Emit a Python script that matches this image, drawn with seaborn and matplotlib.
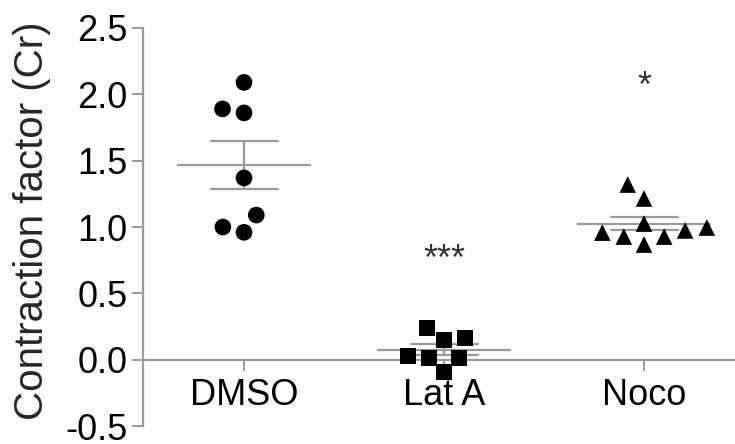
import matplotlib
matplotlib.use("Agg")
import matplotlib.pyplot as plt
import seaborn as sns
import pandas as pd
import numpy as np

# ---- data ----
categories = ["DMSO", "Lat A", "Noco"]
dmso = [2.09, 1.86, 1.89, 1.37, 1.09, 0.96, 1.00]
lat_a = [0.166, 0.151, 0.242, 0.015, 0.015, 0.030, -0.090]
noco = [1.32, 1.215, 0.974, 1.026, 0.996, 0.928, 0.928, 0.958, 0.868]
markers = ["o", "s", "^"]
marker_sizes = [12, 11.5, 12]
significance = ["", "***", "*"]
sig_y = [None, 0.75, 2.05]
yticks = [-0.5, 0.0, 0.5, 1.0, 1.5, 2.0, 2.5]
ylabel = "Contraction factor (Cr)"

df = pd.DataFrame({
    "group": ["DMSO"] * len(dmso) + ["Lat A"] * len(lat_a) + ["Noco"] * len(noco),
    "value": dmso + lat_a + noco,
})

sns.set_theme(style="white")
plt.rcParams["font.family"] = ["Liberation Sans", "DejaVu Sans"]

fig = plt.figure(figsize=(7.35, 4.44), dpi=100)
ax = fig.add_axes([143 / 735, 18 / 444, 592 / 735, 398 / 444])

grey = "#9a9a9a"

# error bars (SEM) via seaborn
sns.pointplot(data=df, x="group", y="value", order=categories, errorbar="se",
              capsize=0.335, color=grey, linestyle="none", markersize=0,
              err_kws={"linewidth": 1.6}, ax=ax, zorder=1)

# mean lines
means = df.groupby("group")["value"].mean().reindex(categories)
xpos = np.arange(len(categories))
ax.hlines(means.values, xpos - 0.333, xpos + 0.333, color=grey, linewidth=1.6, zorder=1)

# points (invisible edge widens the swarm spacing like the reference)
for cat, m, s in zip(categories, markers, marker_sizes):
    sns.swarmplot(data=df[df["group"] == cat], x="group", y="value", order=categories,
                  marker=m, size=s, color="black", linewidth=3, edgecolor="none",
                  ax=ax, zorder=3)

# significance marks
for i, (txt, y) in enumerate(zip(significance, sig_y)):
    if txt:
        ax.text(i, y, txt, ha="center", va="center", fontsize=26, color="#333333")

ax.set_xlim(-0.505, 2.455)
ax.set_ylim(-0.5, 2.5)
ax.set_yticks(yticks)
ax.set_yticklabels([f"{t:.1f}" for t in yticks])
ax.set_xlabel("")
ax.set_ylabel(ylabel, fontsize=29)
ax.yaxis.set_label_coords(-0.155, 0.515)

for side in ["top", "right"]:
    ax.spines[side].set_visible(False)
ax.spines["bottom"].set_position(("data", 0))
for side in ["left", "bottom"]:
    ax.spines[side].set_color(grey)
    ax.spines[side].set_linewidth(1.6)

ax.tick_params(axis="y", which="major", left=True, length=8, width=1.4, color=grey,
               labelsize=26, pad=3, labelcolor="black")
ax.tick_params(axis="x", which="major", bottom=True, length=8, width=1.4, color=grey,
               labelsize=26, pad=5.5, labelcolor="black")

fig.savefig("out.png", dpi=100)
